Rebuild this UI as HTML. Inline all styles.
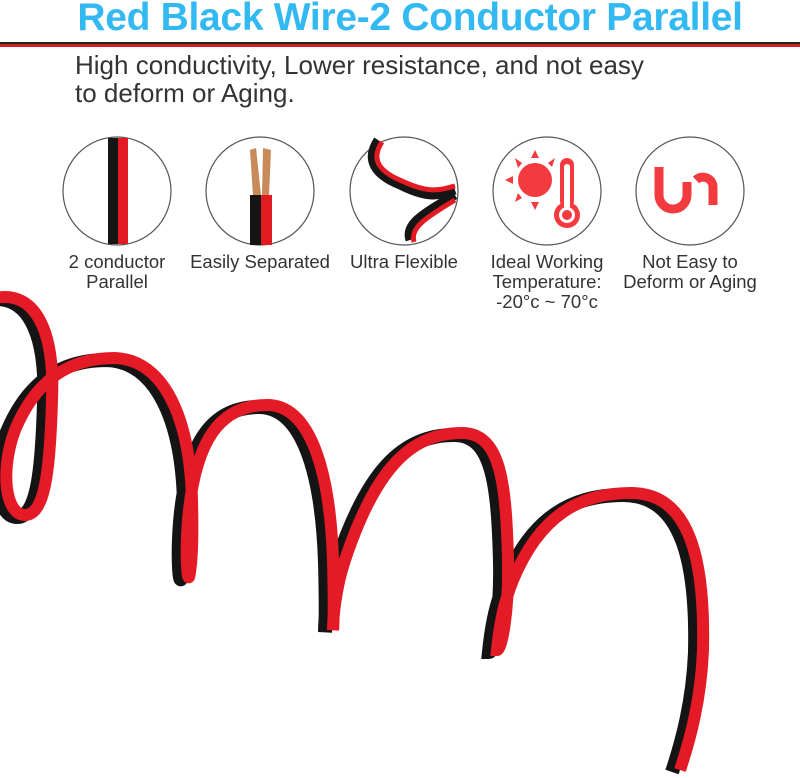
<!DOCTYPE html>
<html><head><meta charset="utf-8"><style>
html,body{margin:0;padding:0;background:#fff;}
body{width:800px;height:778px;overflow:hidden;position:relative;font-family:"Liberation Sans",Arial,sans-serif;}
.t{position:absolute;white-space:nowrap;}
.l{font-size:18.5px;line-height:20px;color:#333;text-align:center;top:252px;}
</style></head><body>
<div class="t" style="left:10px;width:800px;text-align:center;top:-4px;font-size:39px;font-weight:bold;color:#33b9f2;letter-spacing:-0.3px;">Red Black Wire-2 Conductor Parallel</div>
<div style="position:absolute;left:0;top:42px;width:800px;height:2px;background:#222;"></div>
<div style="position:absolute;left:0;top:44px;width:800px;height:3px;background:#d02020;"></div>
<div class="t" style="left:75px;top:51px;font-size:26px;line-height:28px;color:#333;">High conductivity, Lower resistance, and not easy<br>to deform or Aging.</div>

<svg width="800" height="778" style="position:absolute;left:0;top:0">
<g fill="none" stroke="#555" stroke-width="1.2">
<circle cx="117" cy="191" r="54"/><circle cx="260" cy="191" r="54"/><circle cx="404" cy="191" r="54"/><circle cx="547" cy="191" r="54"/><circle cx="690" cy="191" r="54"/>
</g>
<rect x="108" y="138" width="10" height="106" fill="#151515"/>
<rect x="118" y="138" width="10" height="106" fill="#e21b23"/>
<path d="M250 150 L256 148 L261 195 L253 196 Z" fill="#c98a5a"/>
<path d="M263 148 L271 150 L269 196 L262 195 Z" fill="#c98a5a"/>
<rect x="250" y="195" width="11" height="50" fill="#151515"/>
<rect x="261" y="195" width="11" height="50" fill="#e21b23"/>
<path d="M378 140 C365 160 375 175 400 185 C430 200 440 195 455 190" stroke="#151515" stroke-width="9" fill="none"/>
<path d="M455 195 C420 215 405 225 410 240" stroke="#151515" stroke-width="9" fill="none"/>
<path d="M382 142 C370 160 380 172 402 181 C430 194 440 190 455 186" stroke="#e21b23" stroke-width="5" fill="none"/>
<path d="M455 200 C425 218 410 228 414 242" stroke="#e21b23" stroke-width="5" fill="none"/>
<g fill="#f23a3f">
<circle cx="535" cy="180" r="17"/>
<polygon points="535,150 531,158 539,158"/><polygon points="535,210 531,202 539,202"/>
<polygon points="505,180 513,176 513,184"/><polygon points="515,158 522,163 518,168"/>
<polygon points="515,202 518,193 522,198"/><polygon points="555,158 548,163 552,167"/>
<rect x="560" y="158" width="14" height="50" rx="7"/><circle cx="567" cy="215" r="13"/>
</g>
<rect x="564" y="164" width="6" height="45" fill="#fff" rx="3"/><circle cx="567" cy="215" r="8" fill="#fff"/><circle cx="567" cy="215" r="5" fill="#f23a3f"/>
<path d="M659 167 L659 195 A14 14 0 0 0 687 195 L687 182" stroke="#f23a3f" stroke-width="9" fill="none"/>
<path d="M696 180 A10 10 0 0 1 713 187 L713 205" stroke="#f23a3f" stroke-width="9" fill="none"/>
<g fill="none" stroke-linecap="butt">
<path d="M-5 298 C35 290 55 330 52 400 C50 470 45 515 25 515 C5 515 0 470 15 430 C40 370 80 358 115 358 C165 360 190 420 192 500 C193 540 192 560 190 572 C188 590 185 560 188 520 C195 440 220 405 267 405 C310 405 330 470 333 560 C334 600 334 620 333 630 C333 620 335 590 345 560 C375 470 410 433 462 433 C500 433 506 480 508 560 C509 610 502 650 497 650 C500 620 505 600 513 580 C540 515 580 493 631 493 C690 493 705 560 703 650 C701 700 690 740 680 770" stroke="#141414" stroke-width="14" transform="translate(-8,2)"/>
<path d="M-5 298 C35 290 55 330 52 400 C50 470 45 515 25 515 C5 515 0 470 15 430 C40 370 80 358 115 358 C165 360 190 420 192 500 C193 540 192 560 190 572 C188 590 185 560 188 520 C195 440 220 405 267 405 C310 405 330 470 333 560 C334 600 334 620 333 630 C333 620 335 590 345 560 C375 470 410 433 462 433 C500 433 506 480 508 560 C509 610 502 650 497 650 C500 620 505 600 513 580 C540 515 580 493 631 493 C690 493 705 560 703 650 C701 700 690 740 680 770" stroke="#e41b26" stroke-width="12"/>
</g>
</svg>

<div class="t l" style="left:52px;width:130px;">2 conductor<br>Parallel</div>
<div class="t l" style="left:180px;width:160px;">Easily Separated</div>
<div class="t l" style="left:334px;width:140px;">Ultra Flexible</div>
<div class="t l" style="left:477px;width:140px;">Ideal Working<br>Temperature:<br>-20°c ~ 70°c</div>
<div class="t l" style="left:610px;width:160px;">Not Easy to<br>Deform or Aging</div>
</body></html>
